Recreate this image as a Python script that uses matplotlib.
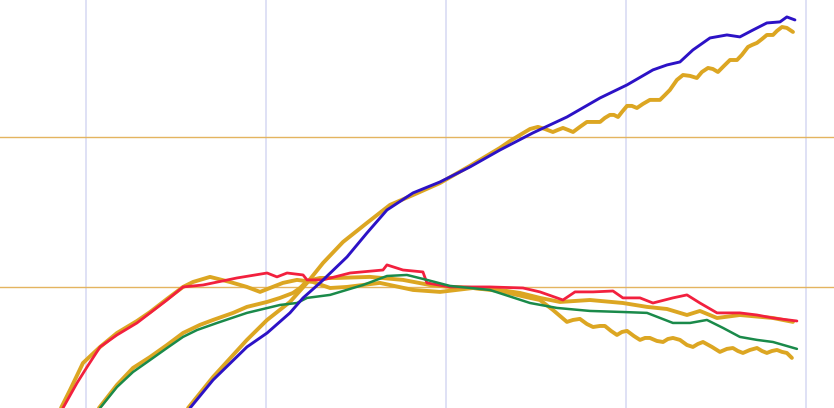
import numpy as np
import matplotlib
matplotlib.use('Agg')
import matplotlib.pyplot as plt

# blue line and its wavy orange companion
blue_x = [15.78, 17.06, 18.94, 20.06, 21.33, 22.06, 23.0, 24.5, 25.61, 26.72, 28.17, 29.67, 31.33, 33.0,
          34.83, 36.72, 38.56, 40.06, 41.5, 42.28, 43.0, 43.72, 44.67, 45.61, 46.33, 47.06, 47.83, 48.56,
          48.94, 49.39]
blue_y = [0.193, 0.38, 0.6, 0.693, 0.827, 0.927, 1.027, 1.2, 1.36, 1.513, 1.627, 1.70, 1.80, 1.913,
          2.027, 2.133, 2.26, 2.347, 2.447, 2.48, 2.50, 2.58, 2.66, 2.68, 2.667, 2.713, 2.76, 2.767,
          2.80, 2.78]

orb_x = [15.67, 17.06, 18.94, 20.06, 21.33, 22.28, 23.17, 24.28, 25.61, 26.89, 28.17, 29.67, 31.33, 33.0,
         33.56, 34.11, 34.67, 35.11, 35.5, 35.94, 36.22, 36.5, 36.78, 37.06, 37.44, 37.83, 38.17, 38.56,
         38.83, 39.11, 39.33, 39.56, 39.78, 40.06, 40.33, 40.61, 40.94, 41.33, 41.61, 41.89, 42.17, 42.44,
         42.83, 43.17, 43.56, 43.94, 44.22, 44.56, 44.83, 45.11, 45.44, 45.78, 46.17, 46.44, 46.78, 47.0,
         47.28, 47.56, 47.83, 48.17, 48.39, 48.67, 48.94, 49.28]
orb_y = [0.193, 0.40, 0.647, 0.78, 0.90, 1.027, 1.16, 1.30, 1.427, 1.547, 1.613, 1.693, 1.807, 1.927,
         1.973, 2.013, 2.053, 2.067, 2.053, 2.033, 2.047, 2.06, 2.047, 2.033, 2.067, 2.10, 2.10, 2.10,
         2.127, 2.147, 2.147, 2.133, 2.167, 2.207, 2.207, 2.193, 2.22, 2.247, 2.247, 2.247, 2.28, 2.313,
         2.38, 2.413, 2.407, 2.393, 2.433, 2.46, 2.453, 2.433, 2.473, 2.513, 2.513, 2.547, 2.60, 2.613,
         2.627, 2.653, 2.68, 2.68, 2.707, 2.733, 2.727, 2.70]

# red line and its orange companion
red_x = [8.72, 9.5, 10.06, 10.78, 11.72, 12.83, 13.56, 14.5, 15.39, 16.5, 18.39, 20.06, 20.61, 21.17,
         22.06, 22.28, 23.17, 24.67, 26.5, 26.72, 27.61, 28.72, 28.94, 30.22, 32.44, 34.28, 35.22, 36.5,
         37.17, 38.17, 39.28, 39.83, 40.78, 41.5, 42.61, 43.39, 44.11, 45.06, 46.33, 47.28, 48.17, 49.5]
red_y = [0.193, 0.36, 0.467, 0.6, 0.68, 0.76, 0.827, 0.913, 1.0, 1.013, 1.06, 1.093, 1.067, 1.093,
         1.08, 1.047, 1.047, 1.093, 1.113, 1.147, 1.113, 1.1, 1.027, 1.0, 1.0, 0.993, 0.967, 0.913,
         0.967, 0.967, 0.973, 0.927, 0.927, 0.893, 0.927, 0.947, 0.893, 0.827, 0.827, 0.813, 0.793, 0.773]

orr_x = [8.61, 9.11, 9.83, 10.78, 11.72, 12.83, 13.56, 14.5, 15.39, 15.94, 16.89, 18.0, 18.94, 19.67,
         20.22, 20.94, 21.72, 22.61, 23.56, 24.5, 26.33, 28.17, 29.67, 31.5, 33.0, 34.11, 35.22, 36.33,
         38.0, 39.83, 41.17, 42.28, 43.39, 44.11, 45.06, 46.33, 48.17, 49.28]
orr_y = [0.193, 0.313, 0.493, 0.6, 0.693, 0.773, 0.833, 0.92, 1.0, 1.033, 1.067, 1.033, 1.0, 0.967,
         0.993, 1.027, 1.047, 1.033, 0.993, 1.0, 1.027, 0.98, 0.967, 0.993, 0.98, 0.96, 0.927, 0.9,
         0.913, 0.893, 0.867, 0.853, 0.813, 0.84, 0.793, 0.813, 0.793, 0.767]

# green line and its wavy orange companion
green_x = [10.78, 11.72, 12.61, 13.56, 14.5, 15.39, 16.17, 17.28, 18.94, 20.78, 21.72, 22.28, 23.56,
           25.39, 26.72, 27.83, 28.94, 30.22, 32.44, 34.67, 36.17, 38.0, 39.83, 41.17, 42.61, 43.56,
           44.5, 45.39, 46.33, 47.28, 48.17, 49.5]
green_y = [0.193, 0.333, 0.433, 0.513, 0.593, 0.667, 0.713, 0.76, 0.827, 0.88, 0.893, 0.927, 0.947,
           1.013, 1.073, 1.08, 1.047, 1.007, 0.98, 0.893, 0.86, 0.84, 0.833, 0.827, 0.76, 0.76,
           0.78, 0.727, 0.667, 0.647, 0.633, 0.587]

org_x = [10.72, 11.72, 12.61, 13.56, 14.5, 15.39, 16.33, 17.06, 18.17, 18.94, 20.06, 20.78, 21.5, 21.89,
         22.28, 23.0, 23.94, 25.78, 27.61, 29.11, 30.22, 31.5, 33.0, 34.67, 35.22, 35.94, 36.33, 36.72,
         37.06, 37.44, 37.83, 38.17, 38.56, 38.83, 39.17, 39.5, 39.78, 40.06, 40.44, 40.78, 41.06, 41.33,
         41.72, 42.06, 42.33, 42.61, 43.0, 43.39, 43.72, 44.0, 44.28, 44.78, 45.22, 45.61, 45.94, 46.22,
         46.5, 46.89, 47.28, 47.56, 47.83, 48.11, 48.39, 48.67, 48.94, 49.22]
org_y = [0.193, 0.347, 0.46, 0.533, 0.613, 0.693, 0.747, 0.78, 0.827, 0.867, 0.90, 0.927, 0.96, 0.993,
         1.04, 1.06, 1.06, 1.067, 1.047, 1.013, 1.0, 0.993, 0.973, 0.927, 0.913, 0.847, 0.807, 0.767,
         0.78, 0.787, 0.753, 0.733, 0.74, 0.74, 0.707, 0.68, 0.70, 0.707, 0.673, 0.647, 0.66, 0.66,
         0.64, 0.633, 0.653, 0.66, 0.647, 0.613, 0.60, 0.62, 0.633, 0.60, 0.567, 0.587, 0.593, 0.573,
         0.56, 0.58, 0.593, 0.573, 0.56, 0.573, 0.58, 0.567, 0.56, 0.527]

x_grid = [10, 20, 30, 40, 50]
y_grid = [1.0, 2.0]

orange = '#dca622'

fig = plt.figure(figsize=(8.34, 4.08), dpi=100)
ax = fig.add_axes([0, 0, 1, 1])
ax.set_xlim(5.22, 51.56)
ax.set_ylim(0.193, 2.913)
ax.set_xticks(x_grid)
ax.set_yticks(y_grid)
ax.tick_params(length=0, labelbottom=False, labelleft=False)
for s in ax.spines.values():
    s.set_visible(False)
ax.set_axisbelow(True)
ax.xaxis.grid(True, color='#d6d8f2', linewidth=1.1)
ax.yaxis.grid(True, color='#e4b460', linewidth=1.0)

kw = dict(solid_joinstyle='round', solid_capstyle='round')
ax.plot(orr_x, orr_y, color=orange, linewidth=2.8, **kw)
ax.plot(org_x, org_y, color=orange, linewidth=2.8, **kw)
ax.plot(orb_x, orb_y, color=orange, linewidth=2.8, **kw)
ax.plot(red_x, red_y, color='#f2203e', linewidth=2.0, **kw)
ax.plot(green_x, green_y, color='#1a8a4a', linewidth=1.8, **kw)
ax.plot(blue_x, blue_y, color='#2c12c6', linewidth=2.1, **kw)

plt.savefig('out.png', dpi=100)
